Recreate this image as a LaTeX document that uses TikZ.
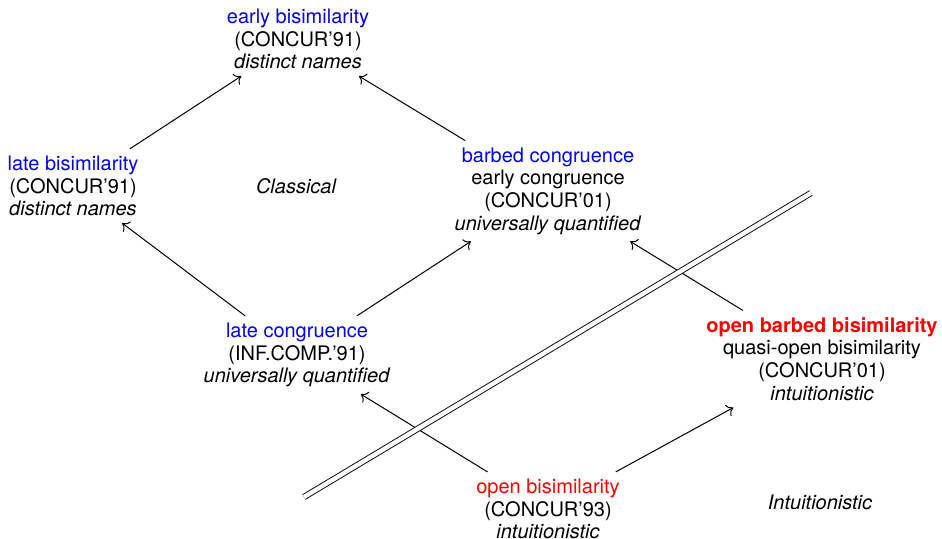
\documentclass[tikz,border=0pt]{standalone}
\usepackage{fontspec}
\setmainfont{TeX Gyre Heros}
\usetikzlibrary{arrows.meta}
\newcommand{\classname}[1]{\textcolor{blue}{#1}}
\newcommand{\intname}[1]{\textcolor{red}{#1}}
\tikzset{
  eqv/.style={align=center, font=\fontsize{10}{11.3}\selectfont},
  region/.style={font=\fontsize{10}{11.3}\selectfont\itshape},
  refines/.style={-{To[length=3.2pt, width=6.4pt]}, line width=0.5pt},
  divide/.style={double, line width=0.45pt, double distance=2.2pt}
}
\begin{document}
\begin{tikzpicture}[x=0.5pt, y=-0.5pt]
			%%%%% START %%%%%
			\useasboundingbox (0, 0) rectangle (942, 539);
			
			\node[eqv] (earlybis) at (298, 39) {\classname{early bisimilarity}\\(CONCUR'91)\\\textit{distinct names}};
			\node[eqv] (latebis) at (73, 186) {\classname{late bisimilarity}\\(CONCUR'91)\\\textit{distinct names}};
			\node[eqv] (barbed) at (548, 191) {\classname{barbed congruence}\\early congruence\\(CONCUR'01)\\\textit{universally quantified}};
			\node[eqv] (latecong) at (297, 355) {\classname{late congruence}\\(INF.COMP.'91)\\\textit{universally quantified}};
			\node[eqv] (openbarbed) at (822, 359) {\intname{\bfseries open barbed bisimilarity}\\quasi-open bisimilarity\\(CONCUR'01)\\\textit{intuitionistic}};
			\node[eqv] (openbis) at (548, 509) {\intname{open bisimilarity}\\(CONCUR'93)\\\textit{intuitionistic}};
			
			\node[region] (classical) at (296, 186) {Classical};
			\node[region] (intuit) at (820, 502) {Intuitionistic};
			
			\draw[refines] (latebis) -- (earlybis);
			\draw[refines] (barbed) -- (earlybis);
			\draw[refines] (latecong) -- (latebis);
			\draw[refines] (latecong) -- (barbed);
			\draw[refines] (openbarbed) -- (barbed);
			\draw[refines] (openbis) -- (latecong);
			\draw[refines] (openbis) -- (openbarbed);
			
			\coordinate (sepLow) at (304, 497);
			\coordinate (sepHigh) at (811, 193);
			\draw[divide] (sepLow) -- (sepHigh);
			
			%%%%% END %%%%%
\end{tikzpicture}
\end{document}
